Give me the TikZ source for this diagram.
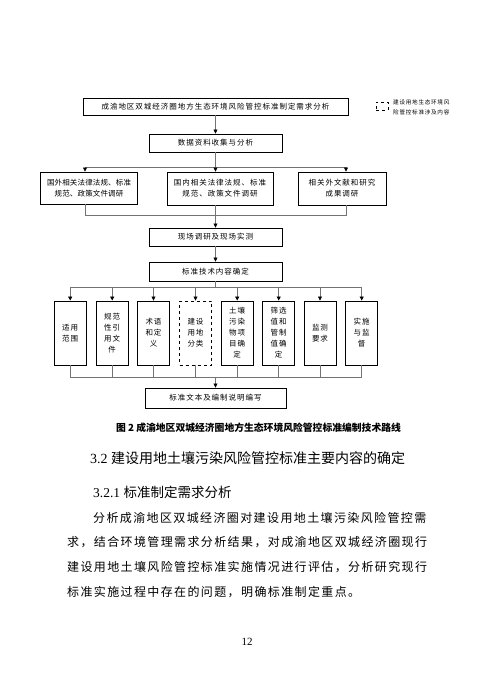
\documentclass[tikz,border=0pt]{standalone}
\usepackage{fontspec}
\setmainfont{Liberation Serif}
\newfontfamily\cjk{Noto Sans CJK SC}
\newfontfamily\cjkbox[LetterSpace=13]{Noto Sans CJK SC}
\newfontfamily\cjkboxn[LetterSpace=2]{Noto Sans CJK SC}
\newfontfamily\cjkpar[LetterSpace=11.5]{Noto Sans CJK SC}
\usetikzlibrary{arrows.meta,calc}
\newcommand\bxfnt{\cjkbox\fontsize{7.5}{11}\selectfont}
\newcommand\bxnfnt{\cjkboxn\fontsize{7.5}{11}\selectfont}
\newcommand\pfnt{\cjkpar\fontsize{12}{12}\selectfont}
\begin{document}
\begin{tikzpicture}[x=1pt,y=-1pt,
  box/.style={draw=black, line width=0.9pt, inner sep=0pt, align=center, font=\bxfnt},
  vbox/.style={box, minimum width=32, minimum height=64},
  conn/.style={draw=black!55, line width=0.7pt},
  arr/.style={conn, -{Triangle[length=4pt,width=4pt,color=black]}},
  ptext/.style={anchor=west, inner sep=0pt, font=\pfnt}]
\fill[white] (0,0) rectangle (495,699);
\useasboundingbox (0,0) rectangle (495,699);

% flowchart boxes
\node[box,minimum width=265,minimum height=17] (top) at (215.5,106.5) {成渝地区双城经济圈地方生态环境风险管控标准制定需求分析};
\node[box,minimum width=133,minimum height=18] (data) at (215.5,143) {数据资料收集与分析};
\node[box,font=\bxnfnt,minimum width=97,minimum height=32] (b1) at (89,188) {国外相关法律法规、标准\\规范、政策文件调研};
\node[box,minimum width=106,minimum height=33] (b2) at (220,188.5) {国内相关法律法规、标准\\规范、政策文件调研};
\node[box,minimum width=88,minimum height=33] (b3) at (342,188.5) {相关外文献和研究\\成果调研};
\node[box,minimum width=133,minimum height=18] (field) at (215.5,237) {现场调研及现场实测};
\node[box,minimum width=133,minimum height=19] (tech) at (215.5,271.5) {标准技术内容确定};

\node[vbox] (v1) at (70.2,333) {适用\\范围};
\node[vbox] (v2) at (112.2,333) {规范\\性引\\用文\\件};
\node[vbox] (v3) at (153.5,333) {术语\\和定\\义};
\node[vbox,dashed] (v4) at (195.5,333) {建设\\用地\\分类};
\node[vbox] (v5) at (237.2,333) {土壤\\污染\\物项\\目确\\定};
\node[vbox] (v6) at (278.7,333) {筛选\\值和\\管制\\值确\\定};
\node[vbox] (v7) at (320,333) {监测\\要求};
\node[vbox] (v8) at (361.7,333) {实施\\与监\\督};

\node[box,minimum width=141,minimum height=20] (out) at (215.5,398) {标准文本及编制说明编写};

% legend
\node[draw=black,dashed,line width=0.8pt,minimum width=12,minimum height=8,inner sep=0pt] (leg) at (382,106) {};
\node[anchor=west,inner sep=0pt,align=left,font=\cjkbox\fontsize{5.6}{10.5}\selectfont] (legt) at (393,107.5) {建设用地生态环境风\\险管控标准涉及内容};

% connectors
\draw[arr] (top.south) -- (data.north);
\coordinate (s1) at (215.5,167);
\coordinate (c1) at (85,167);
\coordinate (c3) at (346,167);
\draw[conn] (data.south) -- (s1);
\draw[conn] (c1) -- (c3);
\draw[arr] (c1) -- (c1 |- b1.north);
\draw[arr] (s1) -- (s1 |- b2.north);
\draw[arr] (c3) -- (c3 |- b3.north);

\coordinate (d1) at (85,215);
\coordinate (d2) at (215.5,215);
\coordinate (d3) at (346,215);
\draw[conn] (d1 |- b1.south) -- (d1) -- (d3) -- (d3 |- b3.south);
\draw[conn] (d2 |- b2.south) -- (d2);
\draw[arr] (d2) -- (field.north);
\draw[arr] (field.south) -- (tech.north);

\coordinate (e) at (215.5,287);
\draw[conn] (tech.south) -- (e);
\draw[conn] (v1.north |- e) -- (v8.north |- e);
\foreach \i in {1,...,8} {\draw[arr] (v\i.north |- e) -- (v\i.north);}

\coordinate (f) at (215.5,377);
\draw[conn] (v1.south) -- (v1.south |- f) -- (v8.south |- f) -- (v8.south);
\foreach \i in {2,...,7} {\draw[conn] (v\i.south) -- (v\i.south |- f);}
\draw[arr] (f) -- (out.north);

% caption and text
\node[inner sep=0pt,font=\cjk\bfseries\fontsize{9.8}{10}\selectfont] (cap) at (258.5,428) {图 2 成渝地区双城经济圈地方生态环境风险管控标准编制技术路线};
\node[anchor=west,inner sep=0pt] (h1) at (90,458) {\fontsize{14}{14}\selectfont 3.2 \cjk 建设用地土壤污染风险管控标准主要内容的确定};
\node[anchor=west,inner sep=0pt] (h2) at (93,492) {\fontsize{13.5}{13.5}\selectfont 3.2.1 \cjk 标准制定需求分析};
\node[ptext] (p1) at (93,518) {分析成渝地区双城经济圈对建设用地土壤污染风险管控需};
\node[ptext] (p2) at (67,542.5) {求，结合环境管理需求分析结果，对成渝地区双城经济圈现行};
\node[ptext] (p3) at (67,567) {建设用地土壤风险管控标准实施情况进行评估，分析研究现行};
\node[ptext] (p4) at (67,592) {标准实施过程中存在的问题，明确标准制定重点。};
\node[inner sep=0pt,font=\fontsize{11}{11}\selectfont] (pg) at (247,642) {12};
\end{tikzpicture}
\end{document}
